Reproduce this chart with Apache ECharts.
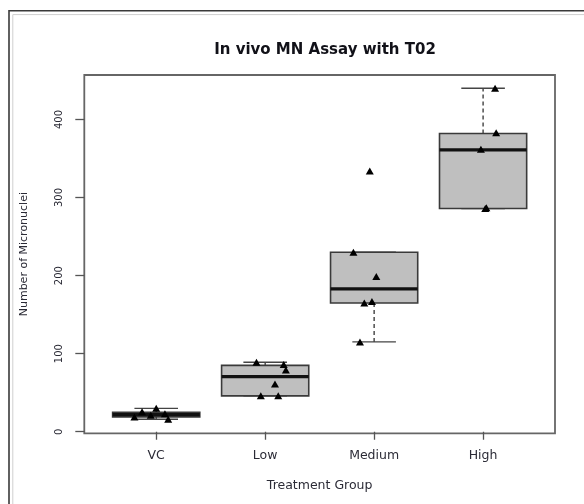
<!DOCTYPE html>
<html>
<head>
<meta charset="utf-8">
<script src="https://cdn.jsdelivr.net/npm/echarts@6/dist/echarts.min.js"></script>
<style>
  html, body { margin: 0; padding: 0; background: #fff; }
  #chart { width: 584px; height: 504px; }
</style>
</head>
<body>
<div id="chart"></div>
<script>
// groups along the x axis
const groups = ['VC', 'Low', 'Medium', 'High']
// [lower whisker, Q1, median, Q3, upper whisker]
const boxStats = [
  [16, 19, 22, 25, 30],
  [46, 46, 70.5, 85, 89],
  [115, 165, 183, 230, 230],
  [286, 286, 361, 382, 440]
]
// individual animals, per group
const pointValues = [
  [16, 19, 21, 23, 25.5, 30],
  [46, 46, 61, 79, 86, 89],
  [115, 165, 167, 199, 230, 334],
  [286, 287, 362, 383, 440]
]
// horizontal jitter of each point (in group units)
const pointJitter = [
  [0.11, -0.2, -0.05, 0.08, -0.13, 0.0],
  [-0.04, 0.12, 0.09, 0.19, 0.17, -0.08],
  [-0.13, -0.09, -0.02, 0.02, -0.19, -0.04],
  [0.02, 0.03, -0.02, 0.12, 0.11]
]
const yTicks = [0, 100, 200, 300, 400]

const FONT = 'DejaVu Sans'
const TXT = '#2b2b36'

const boxData = boxStats.map((s, i) => [i + 1].concat(s))
const pointData = []
pointValues.forEach((vals, i) => {
  vals.forEach((v, j) => {
    pointData.push([i + 1 + pointJitter[i][j], v])
  })
})

// R-style box: dashed whiskers, staples, grey box, thick median
function renderBox(params, api) {
  const x = api.value(0)
  const lo = api.value(1), q1 = api.value(2), med = api.value(3), q3 = api.value(4), hi = api.value(5)
  const halfBox = api.size([0.4, 0])[0]
  const halfCap = api.size([0.2, 0])[0]
  const pLo = api.coord([x, lo]), pQ1 = api.coord([x, q1]), pMed = api.coord([x, med])
  const pQ3 = api.coord([x, q3]), pHi = api.coord([x, hi])
  const cx = pMed[0]
  const whisker = { stroke: '#333', lineWidth: 1.3, lineDash: [4, 3] }
  const cap = { stroke: '#444', lineWidth: 1.3 }
  const children = []
  if (hi > q3) {
    children.push({ type: 'line', shape: { x1: cx, y1: pQ3[1], x2: cx, y2: pHi[1] }, style: whisker })
  }
  if (lo < q1) {
    children.push({ type: 'line', shape: { x1: cx, y1: pQ1[1], x2: cx, y2: pLo[1] }, style: whisker })
  }
  children.push({ type: 'line', shape: { x1: cx - halfCap, y1: pHi[1], x2: cx + halfCap, y2: pHi[1] }, style: cap })
  children.push({ type: 'line', shape: { x1: cx - halfCap, y1: pLo[1], x2: cx + halfCap, y2: pLo[1] }, style: cap })
  children.push({
    type: 'rect',
    shape: { x: cx - halfBox, y: pQ3[1], width: halfBox * 2, height: pQ1[1] - pQ3[1] },
    style: { fill: '#bfbfbf', stroke: '#3a3a3a', lineWidth: 1.6 }
  })
  children.push({
    type: 'line',
    shape: { x1: cx - halfBox, y1: pMed[1], x2: cx + halfBox, y2: pMed[1] },
    style: { stroke: '#111', lineWidth: 3.2 }
  })
  return { type: 'group', children: children }
}

const chart = echarts.init(document.getElementById('chart'))
chart.setOption({
  animation: false,
  backgroundColor: '#fff',
  textStyle: { fontFamily: FONT },
  title: {
    text: 'In vivo MN Assay with T02',
    left: 320,
    top: 38,
    textAlign: 'center',
    textStyle: { fontFamily: FONT, fontWeight: 'bold', fontSize: 15, color: '#111118' }
  },
  graphic: [
    { type: 'rect', shape: { x: 9, y: 10.8, width: 700, height: 700 }, style: { fill: 'none', stroke: '#3a3a3a', lineWidth: 1.6 } },
    { type: 'rect', shape: { x: 12.8, y: 14.6, width: 700, height: 700 }, style: { fill: 'none', stroke: '#cfcfcf', lineWidth: 1 } }
  ],
  grid: {
    left: 84.3, right: 29, top: 75, bottom: 70.7,
    show: true, borderColor: '#666', borderWidth: 1.8, backgroundColor: 'transparent'
  },
  xAxis: {
    type: 'value',
    min: 0.34,
    max: 4.66,
    name: 'Treatment Group',
    nameLocation: 'middle',
    nameGap: 46,
    nameTextStyle: { fontFamily: FONT, fontSize: 12.5, color: TXT },
    axisLine: { show: false },
    splitLine: { show: false },
    axisTick: { customValues: [1, 2, 3, 4], length: 8, lineStyle: { color: '#555', width: 1.3 } },
    axisLabel: {
      customValues: [1, 2, 3, 4],
      margin: 16,
      fontFamily: FONT, fontSize: 12.5, color: TXT,
      formatter: v => groups[Math.round(v) - 1]
    }
  },
  yAxis: {
    type: 'value',
    min: -2,
    max: 457,
    name: 'Number of Micronuclei',
    nameLocation: 'middle',
    nameGap: 55,
    nameTextStyle: { fontFamily: FONT, fontSize: 11, color: TXT },
    axisLine: { show: false },
    splitLine: { show: false },
    axisTick: { customValues: yTicks, length: 9, lineStyle: { color: '#555', width: 1.3 } },
    axisLabel: {
      customValues: yTicks,
      rotate: 90,
      margin: 20,
      fontFamily: FONT, fontSize: 10, color: TXT
    }
  },
  series: [
    {
      type: 'custom',
      renderItem: renderBox,
      data: boxData,
      encode: { x: 0, y: [1, 2, 3, 4, 5] },
      z: 2
    },
    {
      type: 'scatter',
      data: pointData,
      symbol: 'triangle',
      symbolSize: [8, 7],
      itemStyle: { color: '#000', opacity: 1 },
      z: 5
    }
  ]
})
</script>
</body>
</html>
